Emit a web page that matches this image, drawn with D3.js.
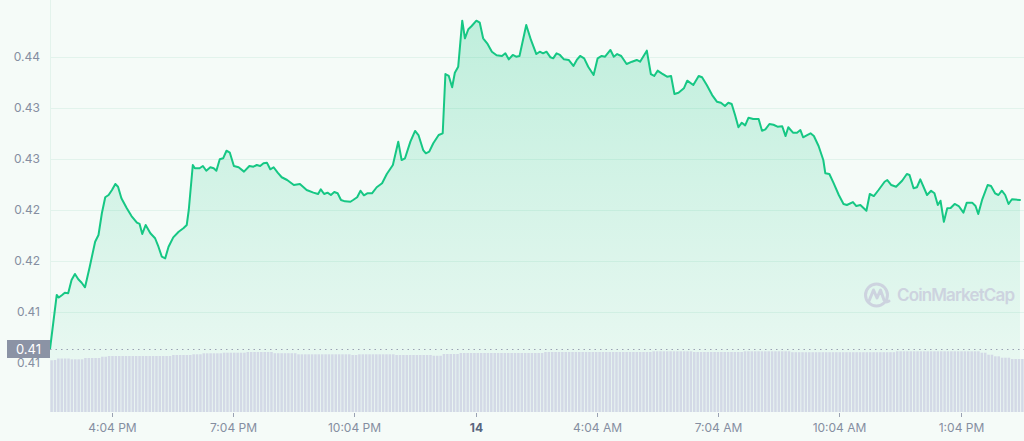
<!DOCTYPE html>
<html>
<head>
<meta charset="utf-8">
<script src="https://cdn.jsdelivr.net/npm/d3@7"></script>
<style>
  html, body { margin: 0; padding: 0; background: #f5fbf8; }
  svg { display: block; font-family: Inter, "Noto Sans", sans-serif; }
</style>
</head>
<body>
<svg id="chart" width="1024" height="441"></svg>
<script>
// ---- data ----
// minutes since 13th 14:32
const minutes = [0,10,13,18,22,27,32,37,42,47,52,59,67,72,77,82,87,92,97,101,106,114,121,129,133,137,142,149,156,161,166,171,176,183,191,198,203,206,212,215,222,227,232,238,243,247,252,257,262,267,273,280,288,296,302,307,312,317,322,327,332,338,344,352,362,371,381,391,398,402,407,412,417,422,427,432,438,446,450,456,461,466,471,478,485,493,500,509,517,522,527,535,542,547,554,558,563,569,577,583,587,592,597,601,606,612,616,621,626,633,638,643,649,656,663,671,676,681,687,692,697,707,714,722,727,732,737,743,747,752,757,763,770,777,782,787,793,799,807,813,819,824,832,837,842,848,856,864,871,876,886,892,897,902,908,916,922,927,933,941,946,955,963,968,975,983,990,996,1002,1007,1012,1017,1022,1027,1032,1037,1044,1052,1057,1062,1068,1074,1080,1087,1092,1096,1103,1109,1114,1118,1124,1129,1134,1141,1148,1151,1157,1163,1171,1178,1183,1192,1197,1203,1212,1217,1223,1230,1239,1243,1249,1256,1265,1272,1276,1282,1287,1292,1302,1308,1313,1318,1322,1327,1332,1337,1343,1349,1356,1361,1369,1374,1378,1384,1392,1397,1403,1408,1413,1418,1423,1428,1440];
const prices = [0.41137,0.41667,0.41642,0.41667,0.41689,0.41683,0.41814,0.41873,0.41821,0.41787,0.41742,0.41944,0.42189,0.42255,0.42468,0.42625,0.42647,0.42696,0.42755,0.42728,0.42615,0.42517,0.42441,0.42376,0.42363,0.42265,0.42353,0.42272,0.42223,0.42140,0.42042,0.42026,0.42140,0.42232,0.42287,0.42321,0.42353,0.42500,0.42941,0.42909,0.42909,0.42931,0.42885,0.42919,0.42909,0.42885,0.42997,0.43007,0.43081,0.43062,0.42931,0.42919,0.42876,0.42931,0.42925,0.42941,0.42931,0.42958,0.42964,0.42899,0.42919,0.42866,0.42821,0.42794,0.42745,0.42755,0.42696,0.42670,0.42657,0.42703,0.42657,0.42670,0.42647,0.42676,0.42664,0.42598,0.42585,0.42581,0.42598,0.42625,0.42689,0.42644,0.42664,0.42664,0.42723,0.42762,0.42853,0.42941,0.43170,0.42990,0.43007,0.43170,0.43275,0.43235,0.43088,0.43056,0.43072,0.43154,0.43235,0.43252,0.43833,0.43814,0.43703,0.43846,0.43905,0.44356,0.44183,0.44272,0.44304,0.44356,0.44336,0.44183,0.44134,0.44052,0.44017,0.44010,0.44036,0.43977,0.44020,0.44003,0.44010,0.44314,0.44167,0.44029,0.44052,0.44036,0.44052,0.43997,0.43987,0.44036,0.44020,0.43977,0.43971,0.43912,0.43971,0.44010,0.43987,0.43905,0.43824,0.43987,0.44010,0.44003,0.44069,0.44003,0.44029,0.44010,0.43931,0.43954,0.43971,0.43954,0.44062,0.43833,0.43814,0.43866,0.43840,0.43807,0.43814,0.43637,0.43650,0.43693,0.43768,0.43725,0.43814,0.43801,0.43725,0.43627,0.43562,0.43552,0.43520,0.43552,0.43539,0.43431,0.43311,0.43356,0.43330,0.43405,0.43392,0.43392,0.43277,0.43291,0.43343,0.43336,0.43317,0.43321,0.43225,0.43311,0.43258,0.43258,0.43284,0.43213,0.43235,0.43252,0.43225,0.43127,0.42990,0.42860,0.42853,0.42768,0.42647,0.42559,0.42549,0.42578,0.42539,0.42549,0.42493,0.42657,0.42637,0.42696,0.42777,0.42794,0.42745,0.42728,0.42787,0.42853,0.42843,0.42713,0.42723,0.42801,0.42647,0.42689,0.42664,0.42549,0.42591,0.42385,0.42517,0.42520,0.42559,0.42539,0.42474,0.42572,0.42572,0.42539,0.42461,0.42605,0.42745,0.42735,0.42664,0.42647,0.42689,0.42647,0.42559,0.42605,0.42598];

// volume bars, 5-minute buckets (relative units)
const volumes = [
  51.7,52,53.5,53.5,53.5,53.5,52.7,52.7,52.7,52.7,
  54,54,54,54,54,55.3,55.3,56,56,56,
  56,56,56,56,56,56,56,56,56,56,
  56,56,56,56,56,56,57,57,57,57,
  57,57,57.7,57.7,57.7,58.7,58.7,58.7,58.7,58.7,
  58.7,59.3,59.3,59.3,59.3,59.3,59.3,59.3,60,60,
  60,60,60,60,60,60,58.8,58.8,58.8,58.8,
  58.8,58.8,58.8,57.7,57.7,57.7,57.7,57.7,57.7,57.7,
  57.7,57.7,57.7,57.7,57.7,57.7,57.7,57.7,57.7,57,
  57,57.7,57.7,57.7,57.7,57.7,57.7,57.7,57.7,57.7,
  57.7,57.7,57,57,57,57,57,57,57,57,
  57,57,57,56.3,56.3,56.3,58,58,58,58,
  58,59,59,59,59,59,59,59,59,59,
  59,59,59,59,59,59,59,59,59,59,
  59,59,59,59,59,59,60,60,60,60,
  60,60,60,60,60,60,60,60,60,60,
  60,60,60,60,60,60,60,60,60,60,
  60,60,60,60,60,60,60,60,60.7,60.7,
  60.7,60.7,60.7,60.7,60.7,60.7,60.7,60.7,60.7,60.7,
  60,60,60,60,60,60,60,60,60,60,
  60,60,60,60,60,60.7,60.7,60.7,60.7,60.7,
  60.7,60.7,60.7,60.7,60.7,60.7,60.7,60.7,60.7,59.8,
  59.8,59.8,59.8,59.8,59.8,59.8,59.8,59.8,59.8,59.8,
  59.8,59.8,59.8,59.8,59.8,59.8,59.8,59.8,59.8,59.8,
  59.8,59.8,59.8,59.8,59.8,59.8,59.8,59.8,59.8,59.8,
  60.7,60.7,60.7,60.7,60.7,60.7,60.7,60.7,60.7,60.7,
  60.7,60.7,60.7,60.7,60.7,60.7,60.7,60.7,60.7,60.7,
  60.7,60.7,60.7,60.7,60.7,59.3,59.3,57.3,57.3,55.7,
  55.7,54.3,54.3,54.3,53,53,53,53
];

const yTickValues = [0.44, 0.435, 0.43, 0.425, 0.42, 0.415, 0.41];
const yTickLabels = ["0.44", "0.43", "0.43", "0.42", "0.42", "0.41", "0.41"];
const xTickMinutes = [92, 272, 452, 632, 812, 992, 1172, 1352];
const xTickLabels = ["4:04 PM", "7:04 PM", "10:04 PM", "14", "4:04 AM", "7:04 AM", "10:04 AM", "1:04 PM"];
const openPrice = 0.41137;
const openLabel = "0.41";

// ---- drawing ----
const start = new Date(2023, 0, 13, 14, 32);
const toDate = m => new Date(start.getTime() + m * 60000);
const data = minutes.map((m, i) => ({ t: toDate(m), p: prices[i] }));

const svg = d3.select("#chart");
const W = 1024, H = 441;
const left = 50, right = 1020;

const x = d3.scaleTime().domain([toDate(0), toDate(1440)]).range([left, right]);
const y = d3.scaleLinear().domain([0.41, 0.44]).range([363, 57]);
const yVol = d3.scaleLinear().domain([0, 60]).range([412, 352]);
const xb = d3.scaleBand().domain(d3.range(volumes.length)).range([left, 1024]).paddingInner(0.25).paddingOuter(0.1);

const defs = svg.append("defs");
const grad = defs.append("linearGradient").attr("id", "areaGrad")
  .attr("gradientUnits", "userSpaceOnUse").attr("x1", 0).attr("x2", 0).attr("y1", 20).attr("y2", 412);
grad.append("stop").attr("offset", 0).attr("stop-color", "#16c784").attr("stop-opacity", 0.24);
grad.append("stop").attr("offset", 1).attr("stop-color", "#16c784").attr("stop-opacity", 0.03);

// grid lines
svg.append("g").selectAll("line").data(yTickValues.slice(0, 6)).join("line")
  .attr("x1", left).attr("x2", W)
  .attr("y1", d => Math.round(y(d)) + 0.5).attr("y2", d => Math.round(y(d)) + 0.5)
  .attr("stroke", "#e2f3ec").attr("stroke-width", 1);

// left axis line
svg.append("line").attr("x1", left + 0.5).attr("x2", left + 0.5).attr("y1", 0).attr("y2", 350)
  .attr("stroke", "#e3f3ec").attr("stroke-width", 1);

// area
const area = d3.area().x(d => x(d.t)).y0(412).y1(d => y(d.p));
svg.append("path").datum(data).attr("d", area).attr("fill", "url(#areaGrad)");

// volume bars
svg.append("g").selectAll("rect").data(volumes).join("rect")
  .attr("x", (d, i) => xb(i)).attr("width", xb.bandwidth())
  .attr("y", d => yVol(d)).attr("height", d => yVol(0) - yVol(d))
  .attr("fill", "#d3d9e6");

// watermark
const wm = svg.append("g").attr("opacity", 1);
wm.append("circle").attr("cx", 876.5).attr("cy", 295).attr("r", 11)
  .attr("fill", "none").attr("stroke", "#cdd3df").attr("stroke-width", 3);
wm.append("path").attr("d", "M869,301 L873.5,290 L877,298 L880.5,290 L884,300 Q886,303 889,301")
  .attr("fill", "none").attr("stroke", "#cdd3df").attr("stroke-width", 3)
  .attr("stroke-linejoin", "round").attr("stroke-linecap", "round");
wm.append("text").attr("x", 897).attr("y", 301).attr("font-size", 17).attr("font-weight", 600)
  .attr("fill", "#cdd3df").attr("textLength", 118).text("CoinMarketCap");

// price line
const line = d3.line().x(d => x(d.t)).y(d => y(d.p));
svg.append("path").datum(data).attr("d", line)
  .attr("fill", "none").attr("stroke", "#16c784").attr("stroke-width", 2)
  .attr("stroke-linejoin", "round").attr("stroke-linecap", "round");

// open price dotted line
svg.append("line").attr("x1", left).attr("x2", W)
  .attr("y1", Math.round(y(openPrice)) + 0.5).attr("y2", Math.round(y(openPrice)) + 0.5)
  .attr("stroke", "#9aa2b3").attr("stroke-width", 1).attr("stroke-dasharray", "1.5,4");

// y labels
svg.append("g").selectAll("text").data(yTickValues).join("text")
  .attr("x", 40).attr("y", d => y(d)).attr("dy", "0.35em")
  .attr("text-anchor", "end").attr("font-size", 12).attr("fill", "#858ea1")
  .text((d, i) => yTickLabels[i]);

// open badge
svg.append("rect").attr("x", 7).attr("y", Math.round(y(openPrice)) - 9).attr("width", 43).attr("height", 18)
  .attr("fill", "#8b93a5");
svg.append("text").attr("x", 28.5).attr("y", y(openPrice)).attr("dy", "0.36em")
  .attr("text-anchor", "middle").attr("font-size", 13).attr("fill", "#ffffff").text(openLabel);

// x axis ticks & labels
const xt = svg.append("g").selectAll("g").data(xTickMinutes).join("g")
  .attr("transform", d => `translate(${Math.round(x(toDate(d))) + 0.5},0)`);
xt.append("line").attr("y1", 413).attr("y2", 417).attr("stroke", "#9aa2b3").attr("stroke-width", 1);
xt.append("text").attr("y", 432).attr("text-anchor", "middle").attr("font-size", 12)
  .attr("fill", (d, i) => xTickLabels[i] === "14" ? "#58667e" : "#858ea1")
  .attr("font-weight", (d, i) => xTickLabels[i] === "14" ? 700 : 400)
  .text((d, i) => xTickLabels[i]);
</script>
</body>
</html>
